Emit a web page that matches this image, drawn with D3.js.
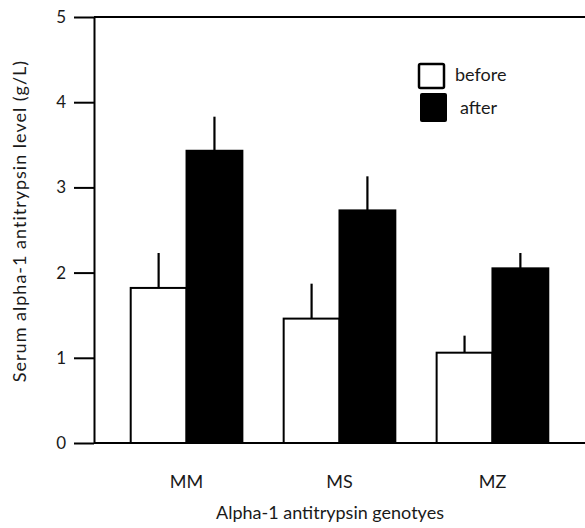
<!DOCTYPE html>
<html>
<head>
<meta charset="utf-8">
<script src="https://cdn.jsdelivr.net/npm/d3@7"></script>
<style>
  body { margin: 0; background: #fff; }
  text { font-family: Lato, "Open Sans", sans-serif; fill: #1a1a1a; }
</style>
</head>
<body>
<div id="chart"></div>
<script>
// values
var genotypes = ["MM", "MS", "MZ"];
var seriesNames = ["before", "after"];
var beforeValues = [1.82, 1.46, 1.06];
var afterValues = [3.43, 2.73, 2.05];
var beforeErrors = [0.41, 0.41, 0.20];
var afterErrors = [0.40, 0.40, 0.18];
var yTicks = [0, 1, 2, 3, 4, 5];

var width = 585, height = 528;
var plotLeft = 94, plotRight = 585, plotTop = 17, plotBottom = 443;

var rows = genotypes.map(function(g, i) {
  return [
    { group: g, key: "before", value: beforeValues[i], err: beforeErrors[i] },
    { group: g, key: "after", value: afterValues[i], err: afterErrors[i] }
  ];
});

var svg = d3.select("#chart").append("svg")
  .attr("width", width)
  .attr("height", height);

var y = d3.scaleLinear()
  .domain([0, 5])
  .range([plotBottom, plotTop]);

// group positions
var x0 = d3.scaleBand()
  .domain(genotypes)
  .range([plotLeft, plotRight])
  .paddingInner(0.27)
  .paddingOuter(0.24);

var x1 = d3.scaleBand()
  .domain(seriesNames)
  .range([0, x0.bandwidth()]);

// top frame line
svg.append("line")
  .attr("x1", plotLeft).attr("x2", plotRight)
  .attr("y1", y(5)).attr("y2", y(5))
  .attr("stroke", "#000").attr("stroke-width", 2);

var groups = svg.append("g").selectAll("g")
  .data(rows)
  .enter().append("g")
  .attr("transform", function(d) { return "translate(" + x0(d[0].group) + ",0)"; });

groups.selectAll("rect")
  .data(function(d) { return d; })
  .enter().append("rect")
  .attr("x", function(d) { return x1(d.key); })
  .attr("y", function(d) { return y(d.value); })
  .attr("width", x1.bandwidth())
  .attr("height", function(d) { return y(0) - y(d.value); })
  .attr("fill", function(d) { return d.key == "before" ? "#fff" : "#000"; })
  .attr("stroke", "#000")
  .attr("stroke-width", 2);

// error bars, upper half only
groups.selectAll("line.err")
  .data(function(d) { return d; })
  .enter().append("line")
  .attr("class", "err")
  .attr("x1", function(d) { return x1(d.key) + x1.bandwidth() / 2; })
  .attr("x2", function(d) { return x1(d.key) + x1.bandwidth() / 2; })
  .attr("y1", function(d) { return y(d.value); })
  .attr("y2", function(d) { return y(d.value + d.err); })
  .attr("stroke", "#000")
  .attr("stroke-width", 2.2);

// baseline
svg.append("line")
  .attr("x1", plotLeft).attr("x2", plotRight)
  .attr("y1", y(0)).attr("y2", y(0))
  .attr("stroke", "#000").attr("stroke-width", 2);

// y axis
var yAxis = d3.axisLeft(y)
  .tickValues(yTicks)
  .tickFormat(d3.format("d"))
  .tickSize(20)
  .tickSizeOuter(0)
  .tickPadding(8);

var yg = svg.append("g")
  .attr("transform", "translate(" + plotLeft + ",0)")
  .call(yAxis);
yg.selectAll("path, line").attr("stroke", "#000").attr("stroke-width", 2);
yg.selectAll("text").attr("font-size", 17).style("font-family", "Lato, sans-serif").attr("fill", "#1a1a1a");

// category labels
svg.append("g").selectAll("text")
  .data(genotypes)
  .enter().append("text")
  .attr("x", function(d) { return x0(d) + x0.bandwidth() / 2; })
  .attr("y", 488)
  .attr("text-anchor", "middle")
  .attr("font-size", 18)
  .text(function(d) { return d; });

// axis titles
svg.append("text")
  .attr("text-anchor", "middle")
  .attr("x", 330)
  .attr("y", 519)
  .attr("font-size", 18)
  .text("Alpha-1 antitrypsin genotyes");

svg.append("text")
  .attr("text-anchor", "middle")
  .attr("transform", "translate(26,221)rotate(-90)")
  .attr("font-size", 18)
  .attr("letter-spacing", 1)
  .text("Serum alpha-1 antitrypsin level (g/L)");

// legend
var legend = svg.append("g");
legend.append("rect")
  .attr("x", 419).attr("y", 64)
  .attr("width", 25).attr("height", 24)
  .attr("rx", 1.5)
  .attr("fill", "#fff").attr("stroke", "#000").attr("stroke-width", 2.5);
legend.append("rect")
  .attr("x", 420).attr("y", 93)
  .attr("width", 27).attr("height", 29)
  .attr("rx", 2)
  .attr("fill", "#000");
legend.append("text")
  .attr("x", 455).attr("y", 81)
  .attr("font-size", 18)
  .text(seriesNames[0]);
legend.append("text")
  .attr("x", 460).attr("y", 114)
  .attr("font-size", 18)
  .text(seriesNames[1]);
</script>
</body>
</html>
